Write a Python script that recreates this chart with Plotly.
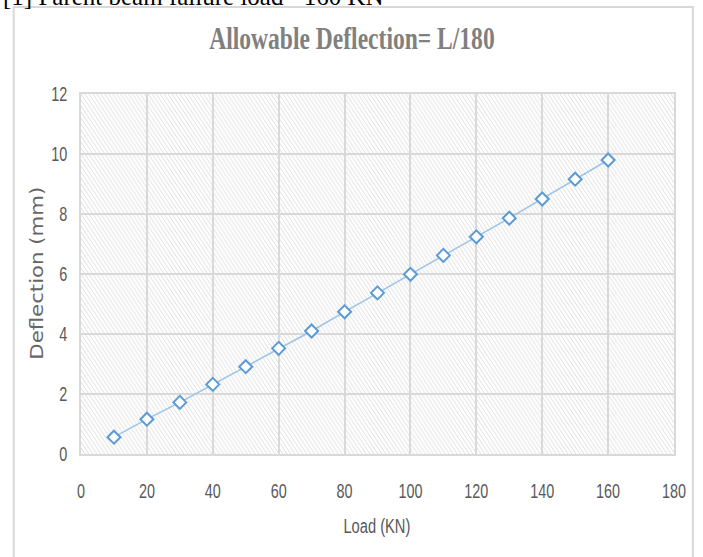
import base64
import plotly.graph_objects as go

load_kn = [10, 20, 30, 40, 50, 60, 70, 80, 90, 100, 110, 120, 130, 140, 150, 160]
deflection_mm = [0.56, 1.16, 1.72, 2.32, 2.91, 3.52, 4.10, 4.74, 5.37, 5.99, 6.62, 7.24, 7.86, 8.50, 9.16, 9.80]
x_ticks = [0, 20, 40, 60, 80, 100, 120, 140, 160, 180]
y_ticks = [0, 2, 4, 6, 8, 10, 12]

title_text = "Allowable Deflection= L/180"
caption_text = "[1] Parent beam failure load= 160 KN"

W, H = 703, 557
L, R, T, B = 81, 23, 94, 103
PW, PH = W - L - R, H - T - B

# diagonal hatch background for the plot area
svg = f'''<svg xmlns="http://www.w3.org/2000/svg" width="{PW}" height="{PH}" viewBox="0 0 {PW} {PH}" preserveAspectRatio="none">
<defs><pattern id="h" patternUnits="userSpaceOnUse" width="4" height="6">
<line x1="-1" y1="-1.5" x2="5" y2="7.5" stroke="#dadada" stroke-width="0.9"/>
<line x1="-5" y1="-1.5" x2="1" y2="7.5" stroke="#dadada" stroke-width="0.9"/>
<line x1="3" y1="-1.5" x2="9" y2="7.5" stroke="#dadada" stroke-width="0.9"/>
</pattern></defs>
<rect width="100%" height="100%" fill="#ffffff"/>
<rect width="100%" height="100%" fill="url(#h)"/>
</svg>'''
src = "data:image/svg+xml;base64," + base64.b64encode(svg.encode()).decode()

fig = go.Figure()
fig.add_trace(go.Scatter(
    x=load_kn, y=deflection_mm, mode="lines+markers",
    line=dict(color="#9DC3E6", width=1.5),
    marker=dict(symbol="diamond", size=10, color="white",
                line=dict(color="#5B9BD5", width=2)),
    showlegend=False,
))

tick_font = dict(family="Liberation Sans, sans-serif", size=20, color="#595959")
fig.update_xaxes(range=[0, 180], tickvals=x_ticks, showgrid=True, gridcolor="#d9d9d9", gridwidth=1.5,
                 zeroline=False, showline=True, linecolor="#d9d9d9", linewidth=1.5, mirror=True,
                 ticks="outside", ticklen=18, tickcolor="rgba(0,0,0,0)", tickfont=tick_font)
fig.update_yaxes(range=[0, 12], tickvals=y_ticks, showgrid=True, gridcolor="#d9d9d9", gridwidth=1.5,
                 zeroline=False, showline=True, linecolor="#d9d9d9", linewidth=1.5, mirror=True,
                 ticks="outside", ticklen=8, tickcolor="rgba(0,0,0,0)", tickfont=tick_font)

px = lambda x: (x - L) / PW
py = lambda y: (H - B - y) / PH

fig.update_layout(
    width=W, height=H, margin=dict(l=L, r=R, t=T, b=B),
    paper_bgcolor="white", plot_bgcolor="rgba(0,0,0,0)",
    images=[dict(source=src, xref="paper", yref="paper", x=0, y=1, sizex=1, sizey=1,
                 sizing="stretch", xanchor="left", yanchor="top", layer="below")],
    shapes=[dict(type="rect", xref="paper", yref="paper", x0=px(13), x1=px(699), y0=py(7), y1=py(600),
                 line=dict(color="#d9d9d9", width=2), fillcolor="rgba(0,0,0,0)", layer="below")],
    annotations=[
        dict(text=title_text, xref="paper", yref="paper", x=px(355), y=py(38), xanchor="center", yanchor="middle",
             showarrow=False, font=dict(family="Liberation Serif, serif", size=31, color="#808080", weight="bold")),
        dict(text=caption_text, xref="paper", yref="paper", x=px(0), y=py(-4), xanchor="left", yanchor="middle",
             showarrow=False, font=dict(family="Liberation Serif, serif", size=25, color="#000000")),
        dict(text="Load (KN)", xref="paper", yref="paper", x=px(380), y=py(525), xanchor="center", yanchor="middle",
             showarrow=False, font=dict(family="Liberation Sans, sans-serif", size=21, color="#595959")),
        dict(text="Deflection (mm)", xref="paper", yref="paper", x=px(37), y=py(273), xanchor="center", yanchor="middle",
             textangle=-90, showarrow=False,
             font=dict(family="DejaVu Sans, sans-serif", size=17, color="#666666")),
    ],
)

post = """
function sx(e, s, origin) { e.style.transformBox = 'fill-box'; e.style.transformOrigin = origin || 'center'; e.style.transform = 'scaleX(' + s + ')'; }
function sxAttr(e, s, right) {
  var b = e.getBBox();
  var cx = right ? (b.x + b.width) : (b.x + b.width / 2);
  var tr = e.getAttribute('transform') || '';
  e.setAttribute('transform', tr + ' translate(' + cx + ',0) scale(' + s + ',1) translate(' + (-cx) + ',0)');
}
var t = document.querySelectorAll('.annotation-text');
if (t.length >= 4) { sx(t[0], 0.76); sx(t[2], 0.70); sx(t[3], 1.25); }
document.querySelectorAll('.xtick text').forEach(function (e) { sxAttr(e, 0.72, false); });
document.querySelectorAll('.ytick text').forEach(function (e) { sxAttr(e, 0.72, true); });
"""
fig.write_html("out.html", post_script=post)
